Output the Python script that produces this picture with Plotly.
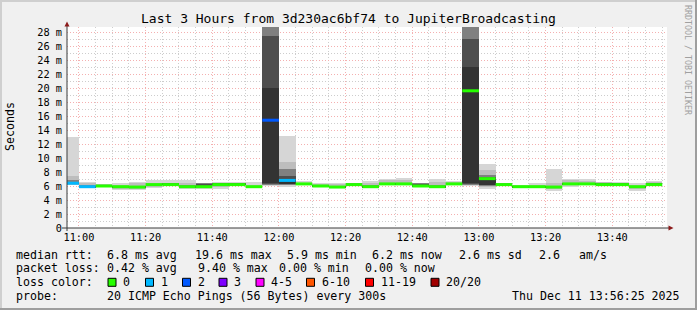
import plotly.graph_objects as go
from datetime import datetime, timedelta

# ---------------- data ----------------
bar_end = ["11:00", "11:05", "11:10", "11:15", "11:20", "11:25", "11:30", "11:35", "11:40",
           "11:45", "11:50", "11:55", "12:00", "12:05", "12:10", "12:15", "12:20", "12:25",
           "12:30", "12:35", "12:40", "12:45", "12:50", "12:55", "13:00", "13:05", "13:10",
           "13:15", "13:20", "13:25", "13:30", "13:35", "13:40", "13:45", "13:50", "13:55"]

median = [6.4, 5.9, 6.0, 5.9, 5.85, 6.2, 6.2, 5.9, 5.9, 6.2, 6.2, 5.9, 15.4, 6.8, 6.3, 6.0, 5.85, 6.2,
          5.9, 6.3, 6.3, 6.0, 5.9, 6.3, 19.6, 7.05, 6.2, 5.9, 5.9, 5.85, 6.3, 6.3, 6.2, 6.2, 5.9, 6.2]
loss = [1, 1, 0, 0, 0, 0, 0, 0, 0, 0, 0, 0, 2, 1, 0, 0, 0, 0,
        0, 0, 0, 0, 0, 0, 0, 0, 0, 0, 0, 0, 0, 0, 0, 0, 0, 0]

smoke_min = [6.1, 5.9, 6.0, 5.4, 5.4, 5.7, 6.1, 5.6, 5.6, 5.6, 6.1, 5.8, 6.0, 5.9, 6.1, 5.9, 5.7, 6.1,
             5.9, 6.2, 6.2, 5.9, 5.9, 6.2, 6.0, 5.6, 6.1, 5.9, 5.9, 5.3, 5.9, 6.2, 6.1, 6.0, 5.3, 6.1]
smoke_max = [13.0, 6.6, 6.2, 6.4, 6.6, 6.8, 6.8, 6.8, 6.5, 6.6, 6.6, 6.6, 40.0, 13.2, 6.7, 6.5, 6.5, 6.4,
             6.7, 7.0, 7.2, 6.5, 7.0, 6.7, 40.0, 9.2, 6.5, 6.2, 6.4, 8.4, 7.0, 7.0, 6.6, 6.6, 6.4, 6.7]
band_lo = [6.2, 5.9, 6.0, 5.6, 5.6, 5.9, 6.1, 5.8, 5.8, 5.9, 6.1, 5.9, 6.1, 6.1, 6.2, 5.9, 5.8, 6.1,
           5.9, 6.2, 6.2, 5.9, 5.9, 6.2, 6.1, 5.9, 6.1, 5.9, 5.9, 5.6, 6.1, 6.2, 6.1, 6.1, 5.6, 6.2]
band_hi = [7.4, 6.4, 6.15, 6.2, 6.4, 6.5, 6.5, 6.5, 6.45, 6.4, 6.4, 6.2, 40.0, 9.5, 6.5, 6.35, 6.3, 6.35,
           6.4, 6.8, 6.9, 6.45, 6.6, 6.6, 40.0, 8.3, 6.4, 6.1, 6.2, 6.5, 6.8, 6.7, 6.55, 6.5, 6.2, 6.6]
inner_lo = [6.3, 5.9, 6.0, 5.8, 5.75, 6.05, 6.15, 5.85, 5.85, 6.1, 6.15, 5.85, 6.2, 6.2, 6.2, 5.95, 5.8, 6.15,
            5.9, 6.25, 6.25, 5.95, 5.9, 6.25, 6.2, 6.0, 6.15, 5.9, 5.9, 5.8, 6.2, 6.25, 6.15, 6.15, 5.8, 6.2]
inner_hi = [6.9, 6.1, 6.1, 6.0, 6.0, 6.35, 6.35, 6.1, 6.45, 6.3, 6.3, 6.0, 40.0, 8.5, 6.4, 6.2, 6.0, 6.3,
            6.1, 6.45, 6.45, 6.4, 6.1, 6.45, 40.0, 7.6, 6.3, 6.0, 6.0, 6.0, 6.45, 6.45, 6.5, 6.35, 6.0, 6.4]
deep_lo = [6.3, 5.9, 6.0, 5.85, 5.8, 6.1, 6.15, 5.85, 5.85, 6.15, 6.15, 5.85, 6.3, 6.3, 6.25, 5.95, 5.8, 6.15,
           5.9, 6.25, 6.25, 5.95, 5.9, 6.25, 6.3, 6.1, 6.15, 5.9, 5.9, 5.8, 6.25, 6.25, 6.15, 6.15, 5.85, 6.2]
deep_hi = [6.6, 6.0, 6.05, 5.95, 5.95, 6.3, 6.3, 6.0, 6.35, 6.3, 6.3, 5.95, 27.5, 7.5, 6.35, 6.1, 5.95, 6.25,
           6.0, 6.4, 6.4, 6.35, 6.0, 6.4, 27.0, 7.3, 6.25, 5.95, 5.95, 5.95, 6.4, 6.4, 6.45, 6.3, 5.95, 6.35]
core_lo = [6.35, 5.85, 5.95, 5.85, 5.8, 6.15, 6.15, 5.85, 5.85, 6.15, 6.15, 5.85, 6.4, 6.3, 6.25, 5.95, 5.8, 6.15,
           5.85, 6.25, 6.25, 5.95, 5.85, 6.25, 6.4, 6.1, 6.15, 5.85, 5.85, 5.8, 6.25, 6.25, 6.15, 6.15, 5.85, 6.15]
core_hi = [6.45, 5.95, 6.05, 5.95, 5.9, 6.25, 6.25, 5.95, 5.95, 6.25, 6.25, 5.95, 20.0, 6.8, 6.35, 6.05, 5.9, 6.25,
           5.95, 6.35, 6.35, 6.05, 5.95, 6.35, 23.0, 7.05, 6.25, 5.95, 5.95, 5.9, 6.35, 6.35, 6.25, 6.25, 5.95, 6.25]

y_ticks = [0, 2, 4, 6, 8, 10, 12, 14, 16, 18, 20, 22, 24, 26, 28]
y_tick_text = ["0", "2 m", "4 m", "6 m", "8 m", "10 m", "12 m", "14 m", "16 m", "18 m",
               "20 m", "22 m", "24 m", "26 m", "28 m"]

loss_labels = ["0", "1", "2", "3", "4-5", "6-10", "11-19", "20/20"]
loss_colors = ["#26ff00", "#00b8ff", "#0059ff", "#7e00ff", "#ff00ff", "#ff5500", "#ff0000", "#a10000"]

title_text = "Last 3 Hours from 3d230ac6bf74 to JupiterBroadcasting"
stats_rtt = ["median rtt:", "6.8 ms avg", "19.6 ms max", "5.9 ms min", "6.2 ms now", "2.6 ms sd", "2.6", "am/s"]
stats_loss = ["packet loss:", "0.42 % avg", "9.40 % max", "0.00 % min", "0.00 % now"]
probe_text = ["probe:", "20 ICMP Echo Pings (56 Bytes) every 300s"]
stamp_text = "Thu Dec 11 13:56:25 2025"

# ---------------- geometry helpers ----------------
W, H = 697, 310
L, R, T, B = 67, 667, 27, 228


def px(x):
    return (x - L) / (R - L)


def py(y):
    return (B - y) / (B - T)


def bucket(n):
    if n <= 3:
        return n
    if n <= 5:
        return 4
    if n <= 10:
        return 5
    if n <= 19:
        return 6
    return 7


day = datetime(2025, 12, 11)
ends = [day + timedelta(hours=int(s[:2]), minutes=int(s[3:])) for s in bar_end]
starts = [e - timedelta(minutes=5) for e in ends]
centers = [e - timedelta(seconds=150) for e in ends]
t_end = datetime(2025, 12, 11, 13, 56, 25)
t_start = t_end - timedelta(hours=3)

fig = go.Figure()

layers = [(smoke_min, smoke_max, "#d6d6d6"),
          (band_lo, band_hi, "#bdbdbd"),
          (inner_lo, inner_hi, "#808080"),
          (deep_lo, deep_hi, "#4e4e4e"),
          (core_lo, core_hi, "#333333")]
for lo, hi, col in layers:
    fig.add_trace(go.Bar(x=centers, base=lo, y=[h - l for l, h in zip(lo, hi)],
                         width=300000, marker=dict(color=col, line=dict(width=0)),
                         hoverinfo="skip", showlegend=False))

for bi, col in enumerate(loss_colors):
    xs, ys = [], []
    for s, e, m, l in zip(starts, ends, median, loss):
        if bucket(l) == bi:
            xs += [s, e, None]
            ys += [m, m, None]
    if xs:
        fig.add_trace(go.Scatter(x=xs, y=ys, mode="lines", line=dict(color=col, width=3),
                                 hoverinfo="skip", showlegend=False))

mono = "DejaVu Sans Mono"
dots = "1px,2px"
fig.update_layout(
    width=W, height=H,
    margin=dict(l=L, r=W - R, t=T, b=H - B),
    paper_bgcolor="#f0f0f0", plot_bgcolor="#ffffff",
    barmode="overlay", bargap=0, showlegend=False,
    font=dict(family=mono, size=10.3, color="#000000"),
    xaxis=dict(type="date", range=[t_start, t_end], tickformat="%H:%M",
               tick0="2025-12-11 11:00:00", dtick=1200000,
               showgrid=True, gridcolor="#f4b0b0", griddash=dots, gridwidth=1,
               minor=dict(tick0="2025-12-11 11:00:00", dtick=300000, showgrid=True,
                          gridcolor="#cdcdcd", griddash=dots, gridwidth=1),
               showline=False, zeroline=False, ticks="", ticklabelstandoff=2,
               tickfont=dict(family=mono, size=10.3)),
    yaxis=dict(range=[0, (B - T) / 7.0], tickvals=y_ticks, ticktext=y_tick_text,
               showgrid=True, gridcolor="#f4b0b0", griddash=dots, gridwidth=1,
               minor=dict(dtick=1, tick0=0, showgrid=True, gridcolor="#cdcdcd",
                          griddash=dots, gridwidth=1),
               showline=False, zeroline=False, ticks="", ticklabelstandoff=4,
               tickfont=dict(family=mono, size=10.3)),
)

shapes = []
# axes
shapes.append(dict(type="line", xref="paper", yref="paper", x0=px(62), x1=px(669), y0=py(228), y1=py(228),
                   line=dict(color="#3a3a3a", width=1)))
shapes.append(dict(type="line", xref="paper", yref="paper", x0=px(67), x1=px(67), y0=py(231), y1=py(24),
                   line=dict(color="#3a3a3a", width=1)))
# arrows
shapes.append(dict(type="path", xref="paper", yref="paper",
                   path=f"M {px(64.5)},{py(26.5)} L {px(69.5)},{py(26.5)} L {px(67)},{py(21.5)} Z",
                   fillcolor="#8b1a1a", line=dict(width=0)))
shapes.append(dict(type="path", xref="paper", yref="paper",
                   path=f"M {px(668.5)},{py(225.5)} L {px(668.5)},{py(230.5)} L {px(673.5)},{py(228)} Z",
                   fillcolor="#8b1a1a", line=dict(width=0)))
# frame
shapes.append(dict(type="rect", xref="paper", yref="paper", x0=px(0), x1=px(W), y0=py(0), y1=py(2),
                   fillcolor="#cfcfcf", line=dict(width=0)))
shapes.append(dict(type="rect", xref="paper", yref="paper", x0=px(0), x1=px(2), y0=py(0), y1=py(H),
                   fillcolor="#cfcfcf", line=dict(width=0)))
shapes.append(dict(type="rect", xref="paper", yref="paper", x0=px(0), x1=px(W), y0=py(H - 2), y1=py(H),
                   fillcolor="#9e9e9e", line=dict(width=0)))
shapes.append(dict(type="rect", xref="paper", yref="paper", x0=px(W - 2), x1=px(W), y0=py(0), y1=py(H),
                   fillcolor="#9e9e9e", line=dict(width=0)))

ann = []


def text(x, y, s, size=11.6, anchor="left", color="#000000", angle=0):
    ann.append(dict(xref="paper", yref="paper", x=px(x), y=py(y), text=s, showarrow=False,
                    xanchor=anchor, yanchor="middle", borderpad=0, textangle=angle,
                    font=dict(family=mono, size=size, color=color)))


text(348, 19, title_text, size=13, anchor="center")
text(10, 127, "Seconds", anchor="center", angle=-90)
text(688, 60, "RRDTOOL / TOBI OETIKER", size=8.3, anchor="center", color="#a0a0a0", angle=90)

row1, row2, row3, row4 = 254.7, 268.3, 282.3, 296
for xpos, s in zip([15, 106, 194, 286, 371, 458, 538, 578], stats_rtt):
    text(xpos, row1, s)
for xpos, s in zip([15, 106, 197, 278, 364], stats_loss):
    text(xpos, row2, s)
text(15, row3, "loss color:")
box_x = [108, 145.5, 182.5, 219, 256, 306.5, 365.5, 431]
for bx, lab, col in zip(box_x, loss_labels, loss_colors):
    shapes.append(dict(type="rect", xref="paper", yref="paper", x0=px(bx), x1=px(bx + 8),
                       y0=py(row3 + 4), y1=py(row3 - 4), fillcolor=col,
                       line=dict(color="#000000", width=1)))
    text(bx + 14, row3, lab)
text(15, row4, probe_text[0])
text(106, row4, probe_text[1])
text(681, row4, stamp_text, anchor="right")

fig.update_layout(shapes=shapes, annotations=ann)
fig.write_html("out.html")
